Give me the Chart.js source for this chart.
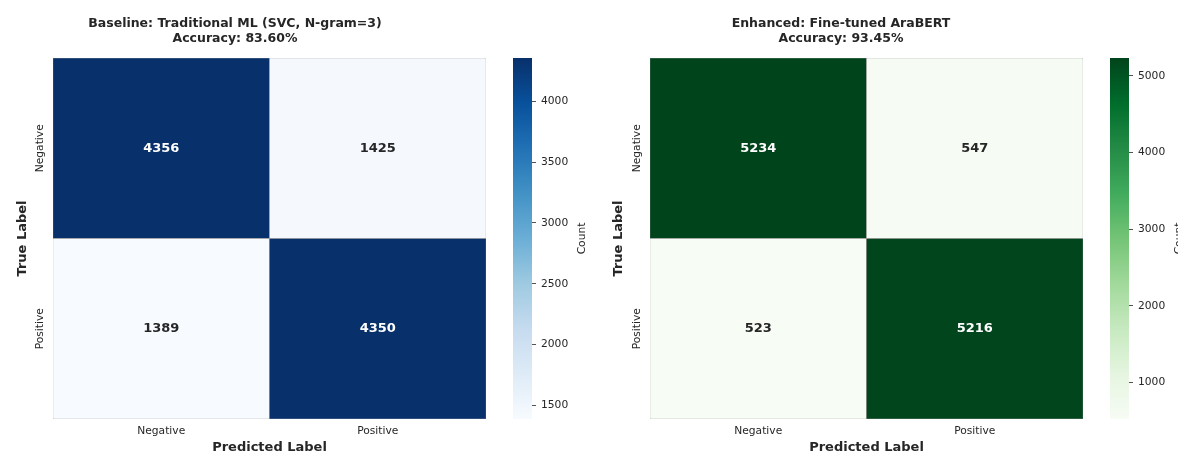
<!DOCTYPE html>
<html>
<head>
<meta charset="utf-8">
<script src="https://cdn.jsdelivr.net/npm/chart.js@4.4.1/dist/chart.umd.min.js"></script>
<style>
  body { margin: 0; background: #fff; width: 1178px; height: 455px; overflow: hidden; position: relative; }
  canvas { position: absolute; top: 0; }
</style>
</head>
<body>
<canvas id="cmSvc" width="516" height="455" style="left:-16px"></canvas>
<canvas id="cbSvc" width="92" height="455" style="left:500px"></canvas>
<canvas id="cmBert" width="497" height="455" style="left:599px"></canvas>
<canvas id="cbBert" width="92" height="455" style="left:1097px"></canvas>
<script>
const classLabels = ['Negative', 'Positive']
// rows = true label, columns = predicted label
const svcCounts = [[4356, 1425], [1389, 4350]]
const bertCounts = [[5234, 547], [523, 5216]]
const svcTicks = [1500, 2000, 2500, 3000, 3500, 4000]
const bertTicks = [1000, 2000, 3000, 4000, 5000]
const svcTitle = ['Baseline: Traditional ML (SVC, N-gram=3)', 'Accuracy: 83.60%']
const bertTitle = ['Enhanced: Fine-tuned AraBERT', 'Accuracy: 93.45%']

const blues = ['#f7fbff', '#deebf7', '#c6dbef', '#9ecae1', '#6baed6', '#4292c6', '#2171b5', '#08519c', '#08306b']
const greens = ['#f7fcf5', '#e5f5e0', '#c7e9c0', '#a1d99b', '#74c476', '#41ab5d', '#238b45', '#006d2c', '#00441b']

const FONT = 'DejaVu Sans'
const INK = '#262626'
const TICK_SIZE = 10.7

function hexRgb(h) {
  return [1, 3, 5].map(i => parseInt(h.substr(i, 2), 16))
}

function cmap(stops, t) {
  t = Math.min(1, Math.max(0, t))
  const pos = t * (stops.length - 1)
  const i = Math.min(Math.floor(pos), stops.length - 2)
  const f = pos - i
  const a = hexRgb(stops[i]), b = hexRgb(stops[i + 1])
  return a.map((v, k) => Math.round(v + (b[k] - v) * f))
}

function luminance(rgb) {
  const c = rgb.map(v => {
    v /= 255
    return v <= 0.03928 ? v / 12.92 : Math.pow((v + 0.055) / 1.055, 2.4)
  })
  return 0.2126 * c[0] + 0.7152 * c[1] + 0.0722 * c[2]
}

// numbers in the middle of each cell
const cellText = {
  id: 'cellText',
  afterDatasetsDraw(chart) {
    const ctx = chart.ctx
    const ds = chart.data.datasets[0]
    const meta = chart.getDatasetMeta(0)
    ctx.save()
    ctx.font = `bold 13px ${FONT}`
    ctx.textAlign = 'center'
    ctx.textBaseline = 'middle'
    meta.data.forEach((bar, i) => {
      const {x, y, base} = bar.getProps(['x', 'y', 'base'], true)
      ctx.fillStyle = ds.textColors[i]
      ctx.fillText(String(ds.data[i].v), x, (y + base) / 2)
    })
    ctx.restore()
  }
}

// rotated row names next to the grid
const rowNames = {
  id: 'rowNames',
  afterDraw(chart) {
    const {ctx, chartArea, scales} = chart
    ctx.save()
    ctx.font = `${TICK_SIZE}px ${FONT}`
    ctx.fillStyle = INK
    ctx.textAlign = 'center'
    ctx.textBaseline = 'middle'
    classLabels.forEach((lab, r) => {
      const py = scales.y.getPixelForValue(classLabels.length - r - 0.5)
      ctx.save()
      ctx.translate(chartArea.left - 13, py)
      ctx.rotate(-Math.PI / 2)
      ctx.fillText(lab, 0, 0)
      ctx.restore()
    })
    ctx.restore()
  }
}

const countLabel = {
  id: 'countLabel',
  afterDraw(chart) {
    const {ctx, chartArea} = chart
    ctx.save()
    ctx.font = `${TICK_SIZE}px ${FONT}`
    ctx.fillStyle = INK
    ctx.textAlign = 'center'
    ctx.textBaseline = 'middle'
    ctx.translate(chartArea.right + 50, (chartArea.top + chartArea.bottom) / 2)
    ctx.rotate(-Math.PI / 2)
    ctx.fillText('Count', 0, 0)
    ctx.restore()
  }
}

function makeMatrix(id, counts, stops, title, yWidth, yTitlePad, rightPad) {
  const vals = counts.flat()
  const vmin = Math.min(...vals), vmax = Math.max(...vals)
  const n = classLabels.length
  const cells = []
  counts.forEach((row, r) => row.forEach((v, c) => {
    cells.push({x: classLabels[c], y: [n - 1 - r, n - r], v: v})
  }))
  const rgbs = cells.map(cell => cmap(stops, (cell.v - vmin) / (vmax - vmin)))

  new Chart(document.getElementById(id), {
    type: 'bar',
    data: {
      labels: classLabels,
      datasets: [{
        data: cells,
        backgroundColor: rgbs.map(c => `rgb(${c[0]},${c[1]},${c[2]})`),
        textColors: rgbs.map(c => luminance(c) < 0.408 ? '#ffffff' : INK),
        borderColor: 'rgba(128,128,128,0.85)',
        borderWidth: 0.5,
        borderSkipped: false,
        barPercentage: 1,
        categoryPercentage: 1
      }]
    },
    options: {
      responsive: false,
      animation: false,
      events: [],
      layout: {padding: {left: 0, right: rightPad, top: 0, bottom: 0}},
      plugins: {
        legend: {display: false},
        tooltip: {enabled: false},
        title: {
          display: true,
          text: title,
          color: INK,
          font: {family: FONT, size: 12.5, weight: 'bold', lineHeight: 1.2},
          padding: {top: 16, bottom: 12}
        }
      },
      scales: {
        x: {
          type: 'category',
          offset: true,
          grid: {display: false, drawTicks: false},
          border: {display: false},
          ticks: {font: {family: FONT, size: TICK_SIZE}, color: INK, padding: 6},
          title: {
            display: true, text: 'Predicted Label', color: INK,
            font: {family: FONT, size: 13, weight: 'bold'},
            padding: {top: 0, bottom: 0}
          },
          afterFit: s => { s.height = 36 }
        },
        y: {
          type: 'linear',
          min: 0,
          max: n,
          grid: {display: false, drawTicks: false},
          border: {display: false},
          ticks: {display: false},
          title: {
            display: true, text: 'True Label', color: INK,
            font: {family: FONT, size: 13, weight: 'bold'},
            padding: {top: yTitlePad, bottom: 0}
          },
          afterFit: s => { s.width = yWidth }
        }
      }
    },
    plugins: [cellText, rowNames]
  })
}

function makeColorbar(id, counts, stops, ticks) {
  const vals = counts.flat()
  const vmin = Math.min(...vals), vmax = Math.max(...vals)
  new Chart(document.getElementById(id), {
    type: 'bar',
    data: {
      labels: [''],
      datasets: [{
        data: [[vmin, vmax]],
        barPercentage: 1,
        categoryPercentage: 1,
        borderWidth: 0,
        backgroundColor(c) {
          const area = c.chart.chartArea
          if (!area) return stops[0]
          const g = c.chart.ctx.createLinearGradient(0, area.bottom, 0, area.top)
          stops.forEach((s, i) => g.addColorStop(i / (stops.length - 1), s))
          return g
        }
      }]
    },
    options: {
      responsive: false,
      animation: false,
      events: [],
      layout: {padding: {left: 13, right: 0, top: 58, bottom: 36}},
      plugins: {legend: {display: false}, tooltip: {enabled: false}},
      scales: {
        x: {display: false},
        y: {
          position: 'right',
          min: vmin,
          max: vmax,
          grid: {drawOnChartArea: false, tickLength: 4, tickColor: INK, tickWidth: 0.8},
          border: {display: false},
          afterBuildTicks: s => { s.ticks = ticks.map(v => ({value: v})) },
          ticks: {font: {family: FONT, size: TICK_SIZE}, color: INK, padding: 5, callback: v => String(v)},
          afterFit: s => { s.width = 60 }
        }
      }
    },
    plugins: [countLabel]
  })
}

makeMatrix('cmSvc', svcCounts, blues, svcTitle, 69, 31, 14)
makeColorbar('cbSvc', svcCounts, blues, svcTicks)
makeMatrix('cmBert', bertCounts, greens, bertTitle, 51, 12, 13)
makeColorbar('cbBert', bertCounts, greens, bertTicks)
</script>
</body>
</html>
